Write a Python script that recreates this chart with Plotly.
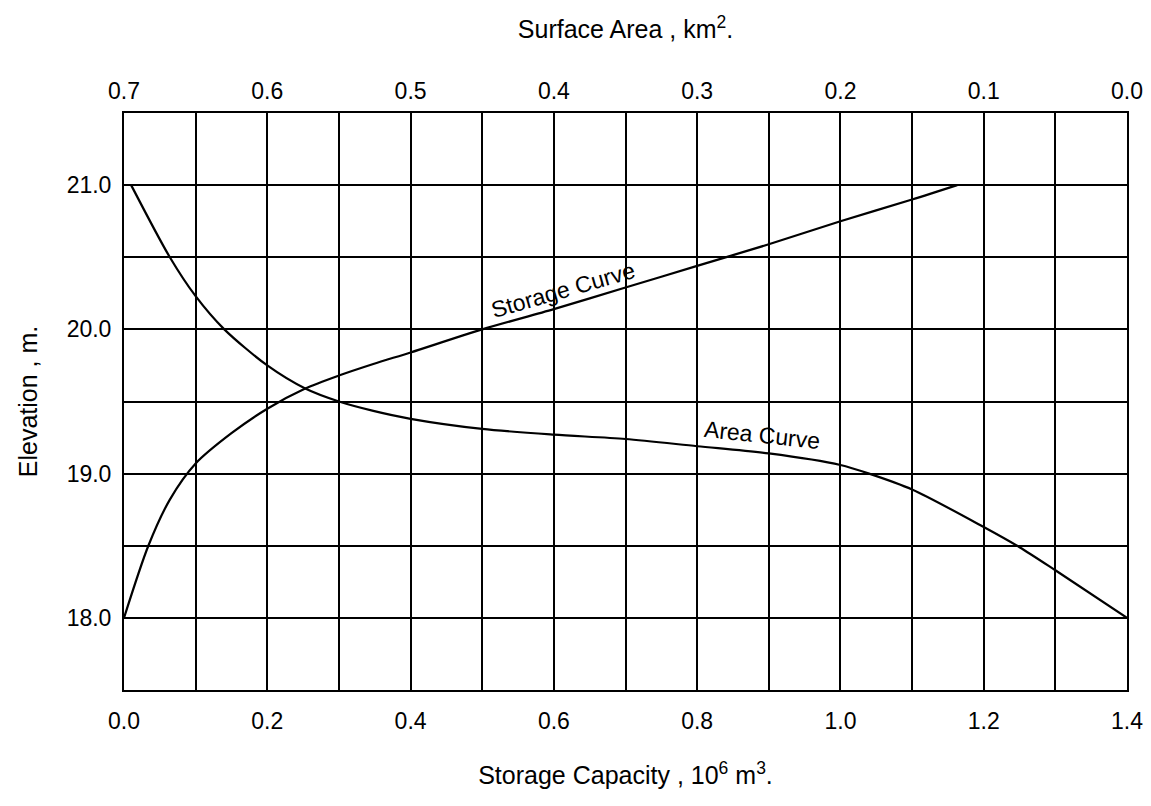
import plotly.graph_objects as go

# Storage curve: capacity (10^6 m^3) vs elevation (m)
storage_capacity = [0.0, 0.034, 0.064, 0.1, 0.15, 0.2, 0.253, 0.3, 0.348, 0.4, 0.5,
                    0.6, 0.7, 0.8, 0.9, 1.0, 1.1, 1.163]
storage_elev = [18.0, 18.5, 18.82, 19.07, 19.28, 19.45, 19.59, 19.68, 19.76, 19.84, 20.0,
                20.14, 20.29, 20.44, 20.59, 20.75, 20.9, 21.0]

# Area curve: surface area (km^2) vs elevation (m)
surface_area = [0.695, 0.668, 0.65, 0.63, 0.60, 0.5735, 0.55, 0.526, 0.50, 0.45, 0.40,
                0.35, 0.30, 0.25, 0.20, 0.18, 0.15, 0.10, 0.075, 0.05, 0.0]
area_elev = [21.0, 20.5, 20.23, 20.0, 19.75, 19.59, 19.5, 19.435, 19.38, 19.31, 19.27,
             19.24, 19.19, 19.14, 19.06, 19.0, 18.89, 18.63, 18.49, 18.33, 18.0]

# Tick values / labels
cap_ticks = [0.0, 0.2, 0.4, 0.6, 0.8, 1.0, 1.2, 1.4]
cap_labels = [f"{v:.1f}" for v in cap_ticks]
cap_minor = [0.1, 0.3, 0.5, 0.7, 0.9, 1.1, 1.3]
area_ticks = [0.7, 0.6, 0.5, 0.4, 0.3, 0.2, 0.1, 0.0]
area_labels = [f"{v:.1f}" for v in area_ticks]
elev_ticks = [18.0, 19.0, 20.0, 21.0]
elev_labels = [f"{v:.1f}" for v in elev_ticks]
elev_minor = [18.5, 19.5, 20.5]

FONT = "Liberation Sans, Arial, sans-serif"

fig = go.Figure()
fig.add_trace(go.Scatter(x=storage_capacity, y=storage_elev, mode="lines",
                         line=dict(color="black", width=2.2, shape="spline", smoothing=0.8),
                         xaxis="x", yaxis="y", showlegend=False, name="Storage Curve"))
fig.add_trace(go.Scatter(x=surface_area, y=area_elev, mode="lines",
                         line=dict(color="black", width=2.2, shape="spline", smoothing=0.8),
                         xaxis="x2", yaxis="y", showlegend=False, name="Area Curve"))

fig.add_annotation(x=0.613, y=20.27, xref="x", yref="y", text="Storage Curve",
                   showarrow=False, textangle=-16,
                   font=dict(family=FONT, size=23, color="black"))
fig.add_annotation(x=0.891, y=19.27, xref="x", yref="y", text="Area Curve",
                   showarrow=False, textangle=6,
                   font=dict(family=FONT, size=23, color="black"))

grid_minor_x = dict(tickmode="array", tickvals=cap_minor, showgrid=True,
                    gridcolor="black", gridwidth=1.6, ticks="")
grid_minor_y = dict(tickmode="array", tickvals=elev_minor, showgrid=True,
                    gridcolor="black", gridwidth=1.6, ticks="")

fig.update_layout(
    width=1151, height=806,
    margin=dict(l=124, r=24, t=113, b=116),
    paper_bgcolor="white", plot_bgcolor="white",
    font=dict(family=FONT, size=23, color="black"),
    xaxis=dict(
        range=[0, 1.4], tickmode="array", tickvals=cap_ticks, ticktext=cap_labels,
        minor=grid_minor_x,
        showgrid=True, gridcolor="black", gridwidth=1.6,
        showline=True, linecolor="black", linewidth=2, mirror=True,
        zeroline=False, ticks="", ticklabelstandoff=9,
        title=dict(text="Storage Capacity , 10<sup>6</sup> m<sup>3</sup>.",
                   font=dict(size=25), standoff=34),
        automargin=False,
    ),
    xaxis2=dict(
        overlaying="x", side="top", range=[0.7, 0.0], tickmode="array",
        tickvals=area_ticks, ticktext=area_labels, showgrid=False,
        zeroline=False, ticks="", ticklabelstandoff=8,
        title=dict(text="Surface Area , km<sup>2</sup>.",
                   font=dict(size=25), standoff=32),
        automargin=False,
    ),
    yaxis=dict(
        range=[17.5, 21.5], tickmode="array", tickvals=elev_ticks, ticktext=elev_labels,
        minor=grid_minor_y,
        showgrid=True, gridcolor="black", gridwidth=1.6,
        showline=True, linecolor="black", linewidth=2, mirror=True,
        zeroline=False, ticks="", ticklabelstandoff=6,
        title=dict(text="Elevation , m.", font=dict(size=25), standoff=22),
        automargin=False,
    ),
)

fig.write_html("out.html")
